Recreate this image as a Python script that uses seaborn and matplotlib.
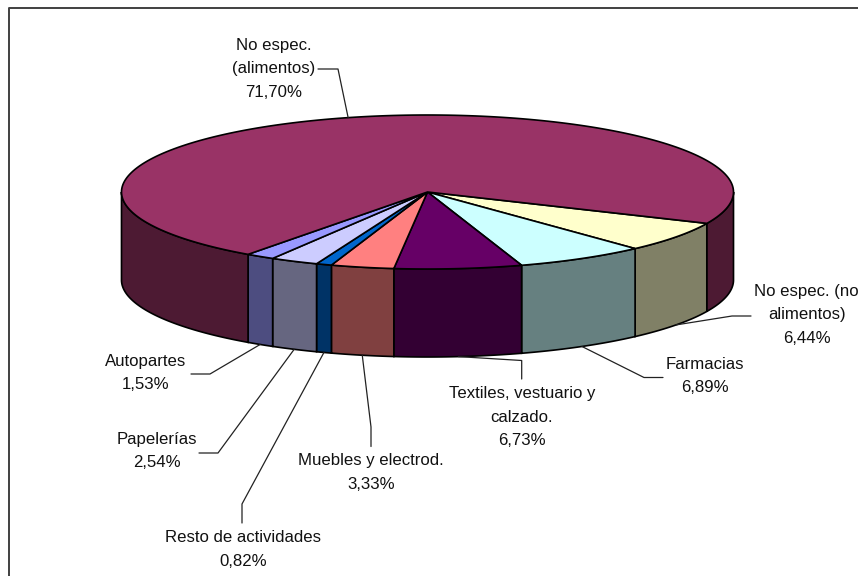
import numpy as np
import pandas as pd
import seaborn as sns
import matplotlib.pyplot as plt
from matplotlib.patches import Polygon

# slices, going clockwise from the right hand edge of the big slice
labels = ['No espec. (no\nalimentos)', 'Farmacias', 'Textiles, vestuario y\ncalzado.',
          'Muebles y electrod.', 'Resto de actividades', 'Papelerías', 'Autopartes',
          'No espec.\n(alimentos)']
values = [6.44, 6.89, 6.73, 3.33, 0.82, 2.54, 1.53, 71.70]
top_colors = ['#FFFFCC', '#CCFFFF', '#660066', '#FF8080', '#0066CC', '#CCCCFF', '#9999FF', '#993366']
side_colors = ['#808066', '#668080', '#330033', '#804040', '#003366', '#666680', '#4D4D80', '#4D1A33']

# label centre and the elbow path of each leader line (pixels)
label_x = [806.7, 705, 522, 371, 243, 157, 146, 274]
label_y = [315, 376, 417, 472.5, 549.5, 451, 373, 69]
elbow_x = [[751, 732], [663, 644], [521.7, 521.7], [371, 371], [242, 242], [199, 218], [191, 210], [318, 338]]
elbow_y = [[316, 316], [377.5, 377.5], [379, 360.5], [446.5, 427], [523, 504], [453, 453], [374, 374], [69, 69]]

start_angle = -24.1
cx, cy = 427.5, 192
rx, ry = 306, 77
depth = 88

df = pd.DataFrame({'label': labels, 'value': values, 'top': top_colors, 'side': side_colors})
df['end'] = start_angle - df['value'].cumsum() * 3.6
df['start'] = df['end'] + df['value'] * 3.6
df['mid'] = (df['start'] + df['end']) / 2


def rim(a0, a1, dy=0):
    t = np.radians(np.linspace(a0, a1, 200))
    return np.column_stack([cx + rx * np.cos(t), cy - ry * np.sin(t) + dy])


sns.set_theme(style='white')
plt.rcParams['font.family'] = ['Liberation Sans', 'DejaVu Sans']

fig, ax = plt.subplots(figsize=(8.58, 5.76), dpi=100)
fig.subplots_adjust(0, 0, 1, 1)
ax.set_xlim(0, 858)
ax.set_ylim(576, 0)
ax.axis('off')

# chart frame, runs off the picture on the right and the bottom
ax.plot([8.5, 8.5, 858], [576, 8, 8], color='#404040', lw=1.4, zorder=1)

# side walls, only the front half of the disc shows
for _, row in df.iterrows():
    for shift in (-360, 0, 360):
        a0 = max(row['end'] + shift, -180)
        a1 = min(row['start'] + shift, 0)
        if a0 >= a1:
            continue
        pts = np.vstack([rim(a0, a1), rim(a1, a0, depth)])
        ax.add_patch(Polygon(pts, closed=True, fc=row['side'], ec='black', lw=1.2, zorder=2))

# top faces
for _, row in df.iterrows():
    pts = np.vstack([[cx, cy], rim(row['start'], row['end'])])
    ax.add_patch(Polygon(pts, closed=True, fc=row['top'], ec='black', lw=1.2, zorder=3))

# leader lines start on the rim at the middle of each slice
for i, row in df.iterrows():
    t = np.radians(row['mid'])
    x0 = cx + rx * np.cos(t)
    y0 = cy - ry * np.sin(t)
    if np.sin(t) < 0:
        y0 += depth
    ax.plot(elbow_x[i] + [x0], elbow_y[i] + [y0], color='#222222', lw=0.9, zorder=4)
    pct = f"{row['value']:.2f}".replace('.', ',')
    ax.text(label_x[i], label_y[i], f"{row['label']}\n{pct}%",
            ha='center', va='center', fontsize=12.1, color='#111111', linespacing=1.7, zorder=5)

fig.savefig('out.png', dpi=100)
